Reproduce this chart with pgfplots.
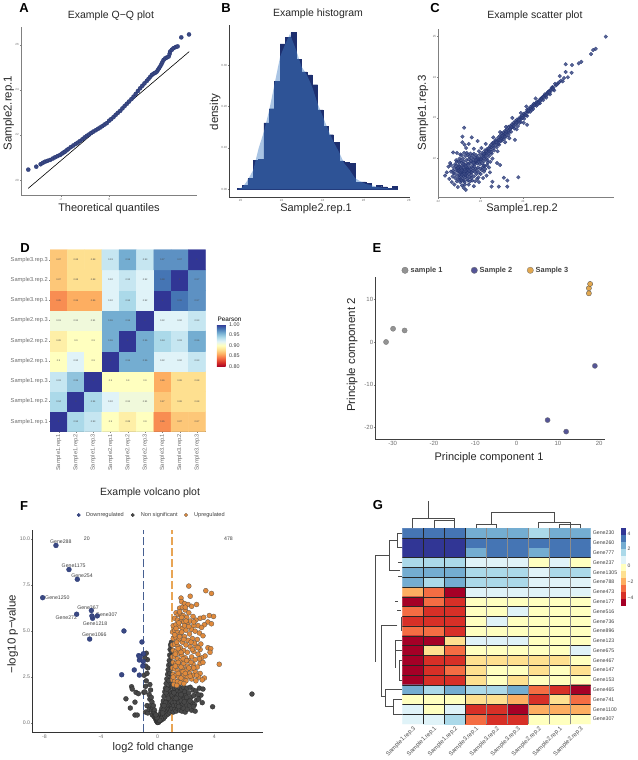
\documentclass[border=0pt]{standalone}
\usepackage{fontspec}
\setmainfont{Liberation Sans}
\usepackage{pgfplots}
\pgfplotsset{compat=1.18}
\definecolor{c0}{RGB}{165,0,38}
\definecolor{c1}{RGB}{215,48,39}
\definecolor{c2}{RGB}{244,109,67}
\definecolor{c3}{RGB}{253,174,97}
\definecolor{c4}{RGB}{254,224,144}
\definecolor{c5}{RGB}{255,255,191}
\definecolor{c6}{RGB}{224,243,248}
\definecolor{c7}{RGB}{171,217,233}
\definecolor{c8}{RGB}{116,173,209}
\definecolor{c9}{RGB}{69,117,180}
\definecolor{c10}{RGB}{49,54,149}
\definecolor{navy}{RGB}{29,47,111}
\definecolor{ptblue}{RGB}{58,72,130}
\definecolor{vorange}{RGB}{224,138,60}
\definecolor{vgray}{RGB}{72,72,72}
\definecolor{tickgray}{RGB}{110,110,110}
\definecolor{dashblue}{RGB}{70,95,145}
\definecolor{dashorange}{RGB}{232,165,85}
\definecolor{densblue}{RGB}{68,127,196}
\definecolor{sblue}{RGB}{85,85,150}
\definecolor{sorange}{RGB}{226,168,80}
\pgfplotsset{
 xl/.style 2 args={xlabel style={at={(axis description cs:#1,#2)},anchor=center,font=\fontsize{11}{11}\selectfont,text=black!85}},
 yl/.style 2 args={ylabel style={at={(axis description cs:#1,#2)},anchor=center,font=\fontsize{11.5}{11.5}\selectfont,text=black!85}},
 tl/.style 2 args={title style={at={(axis description cs:#1,#2)},anchor=center,yshift=0pt,font=\fontsize{10.5}{10.5}\selectfont,text=black!85}},
 panel/.style={scale only axis,axis x line*=bottom,axis y line*=left,
   /pgf/number format/assume math mode=true,
   tick align=outside,major tick length=1pt,tick style={draw=gray,line width=.3pt},
   xtick pos=lower,ytick pos=left,
   xticklabel style={font=\fontsize{3}{3}\selectfont,text=tickgray,inner sep=1pt},
   yticklabel style={font=\fontsize{3}{3}\selectfont,text=tickgray,inner sep=1pt}},
 colormap={rdylbu}{rgb255=(165,0,38) rgb255=(215,48,39) rgb255=(244,109,67) rgb255=(253,174,97) rgb255=(254,224,144) rgb255=(255,255,191) rgb255=(224,243,248) rgb255=(171,217,233) rgb255=(116,173,209) rgb255=(69,117,180) rgb255=(49,54,149)},
}
\begin{document}
\begin{tikzpicture}[x=1pt,y=1pt]
\path[use as bounding box] (0,0) rectangle (637pt,760pt);

% ---------- A
\begin{axis}[panel,at={(21pt,564pt)},anchor=south west,width=176pt,height=169pt,
 xmin=-3.64,xmax=3.63,ymin=19.29,ymax=26.79,xtick={-2,0},ytick={20,22,24,26},
 axis line style={draw=gray,line width=1pt},
 title={Example Q−Q plot},tl={.511}{1.031},
 xlabel={Theoretical quantiles},xl={.5}{-.077},
 ylabel={Sample2.rep.1},yl={-.07}{.491}]
\addplot[only marks,mark=*,mark size=2.1pt,mark options={fill=ptblue,draw=navy,line width=.2pt}] coordinates {
(-3.34,20.46)(-3.01,20.59)(-2.83,20.70)(-2.74,20.76)(-2.65,20.81)(-2.55,20.85)(-2.44,20.89)(-2.33,20.95)(-2.23,21.01)(-2.13,21.06)(-2.03,21.11)(-1.95,21.17)(-1.88,21.22)(-1.82,21.26)(-1.75,21.32)(-1.68,21.38)(-1.58,21.46)(-1.48,21.53)(-1.38,21.60)(-1.29,21.66)(-1.20,21.73)(-1.10,21.81)(-1.01,21.89)(-.92,21.96)(-.83,22.02)(-.74,22.09)(-.65,22.15)(-.55,22.21)(-.46,22.27)(-.37,22.33)(-.28,22.39)(-.19,22.46)(-.10,22.52)(0,22.63)(.08,22.70)(.18,22.79)(.27,22.89)(.36,22.98)(.46,23.07)(.55,23.18)(.64,23.28)(.73,23.38)(.82,23.48)(.92,23.59)(1.01,23.70)(1.10,23.82)(1.19,23.95)(1.28,24.07)(1.37,24.18)(1.46,24.29)(1.56,24.40)(1.63,24.49)(1.70,24.58)(1.77,24.67)(1.84,24.72)(1.91,24.76)(1.97,24.81)(2.02,24.89)(2.06,24.96)(2.11,25.04)(2.16,25.14)(2.20,25.23)(2.25,25.33)(2.32,25.40)(2.39,25.44)(2.46,25.48)(2.50,25.60)(2.52,25.70)(2.59,25.78)(2.66,25.85)(2.75,25.90)(2.83,25.93)(2.98,26.33)(3.30,26.46)};
\addplot[black,line width=.6pt] coordinates {(-3.34,19.63)(3.31,25.70)};
\end{axis}

% ---------- B
\begin{axis}[panel,at={(229.3pt,562.7pt)},anchor=south west,width=180.7pt,height=172.3pt,
 xmin=19.45,xmax=28.26,ymin=-.0194,ymax=.3976,xtick={20,22,24,26,28.2},xticklabels={20,22,24,26,28},
 ytick={0,.1,.2,.3},yticklabels={0.00,0.10,0.20,0.30},
 axis line style={draw=black!75,line width=.7pt},
 title={Example histogram},tl={.491}{1.029},
 xlabel={Sample2.rep.1},xl={.48}{-.068},
 ylabel={density},yl={-.079}{.495}]
\addplot[ybar interval,fill=navy,draw=navy,line width=.4pt] coordinates {
(19.84,.003)(20.10,.010)(20.36,.026)(20.62,.070)(20.88,.073)(21.14,.161)(21.40,.195)(21.66,.261)(21.93,.352)(22.19,.368)(22.45,.379)(22.71,.315)(22.97,.284)(23.23,.277)(23.49,.253)(23.75,.192)(24.01,.153)(24.27,.132)(24.53,.113)(24.79,.069)(25.05,.065)(25.31,.062)(25.58,.016)(25.84,.018)(26.10,.015)(26.36,.006)(26.62,.010)(26.88,.006)(27.14,.003)(27.40,.007)(27.66,.007)};
\addplot[fill=densblue,fill opacity=.46,draw=none] coordinates {
(19.84,0)(20.10,.005)(20.36,.023)(20.62,.047)(20.88,.099)(21.14,.140)(21.40,.192)(21.66,.256)(21.93,.321)(22.19,.353)(22.40,.375)(22.45,.370)(22.71,.337)(22.97,.297)(23.23,.277)(23.49,.248)(23.75,.208)(24.01,.176)(24.27,.144)(24.53,.115)(24.79,.091)(25.05,.063)(25.31,.047)(25.58,.027)(25.84,.019)(26.10,.013)(26.36,.010)(26.62,.006)(26.88,.004)(27.66,0)} -- cycle;
\end{axis}

% ---------- C
\begin{axis}[panel,at={(438.3pt,562pt)},anchor=south west,width=176pt,height=168.7pt,
 xmin=22,xmax=26.16,ymin=21.03,ymax=25.18,xtick={22,23,24},ytick={22,23,24,25},
 axis line style={draw=gray,line width=1pt},
 title={Example scatter plot},tl={.549}{1.043},
 xlabel={Sample1.rep.2},xl={.476}{-.065},
 ylabel={Sample1.rep.3},yl={-.087}{.504}]
\addplot[only marks,mark=*,mark size=1.9pt,mark options={fill=ptblue,draw=navy,line width=.15pt,fill opacity=.85}] coordinates {
(25.96,25.0)(25.72,24.70)(25.66,24.67)(25.61,24.57)(25.38,24.38)(25.32,24.34)(25.16,24.30)(25.01,24.32)(25.15,24.11)(25.01,24.13)(25.06,24.0)(24.97,23.98)(24.87,24.03)(24.83,23.85)(24.76,23.84)(24.70,23.76)(24.74,23.68)(24.66,23.70)(24.62,23.66)(24.58,23.62)(24.64,23.58)(24.54,23.56)(24.50,23.54)(24.55,23.50)(24.46,23.49)(24.42,23.47)(24.48,23.44)(24.38,23.42)(24.34,23.40)(24.40,23.36)(24.30,23.36)(24.26,23.35)(24.32,23.30)(24.22,23.30)(24.18,23.27)(24.24,23.22)(24.14,23.22)(24.10,23.20)(24.17,23.15)(24.06,23.12)(24.02,23.10)(24.10,23.05)(23.98,23.05)(23.94,23.02)(24.03,22.98)(23.90,22.98)(23.86,22.96)(23.95,22.90)(23.82,22.92)(23.78,22.88)(23.88,22.80)(23.74,22.84)(23.70,22.80)(23.80,22.74)(23.66,22.78)(23.62,22.72)(23.72,22.66)(23.58,22.68)(23.54,22.64)(23.66,22.58)(23.50,22.62)(23.46,22.56)(23.60,22.54)(23.42,22.52)(23.40,22.44)(23.55,22.48)(23.36,22.46)(23.32,22.36)(23.50,22.44)(23.28,22.38)(23.25,22.28)(23.44,22.34)(23.22,22.30)(23.18,22.20)(23.38,22.28)(23.16,22.24)(23.12,22.14)(23.32,22.20)(23.10,22.20)(23.06,22.08)(23.26,22.12)(23.04,22.14)(23.0,22.02)(23.2,22.06)(22.98,22.10)(22.94,21.96)(23.14,22.0)(22.92,22.04)(22.88,21.92)(23.08,21.94)(23.35,22.42)(23.42,22.36)(23.48,22.50)(23.52,22.52)(23.57,22.60)(23.64,22.64)(23.69,22.72)(23.76,22.78)(23.83,22.86)(23.89,22.92)(23.96,22.98)(24.04,23.06)(24.12,23.14)(24.2,23.24)(24.28,23.32)(24.36,23.38)(24.44,23.48)(24.52,23.58)(24.6,23.64)(24.68,23.74)(24.78,23.80)(24.9,23.92)(23.24,22.22)(23.3,22.3)(23.2,22.18)(23.14,22.12)(23.08,22.06)(23.02,22.0)(22.96,21.98)(22.9,21.92)(24.10,22.83)(23.81,22.46)(23.46,22.65)(23.30,22.52)(23.60,22.78)(23.75,23.0)(23.95,23.12)(24.08,23.28)(24.30,23.48)(24.02,22.88)(23.85,22.72)(23.68,22.50)(23.58,22.40)(23.40,22.18)(23.28,22.0)(23.15,21.84)(23.05,21.78)(23.02,22.26)(23.12,22.36)(22.93,22.43)(22.79,22.52)(22.61,22.76)(22.57,22.54)(22.57,22.40)(22.72,22.36)(22.35,22.15)(22.28,21.89)(22.16,21.58)(22.65,21.23)(23.89,21.54)(23.55,21.53)(23.63,21.46)(23.63,21.31)(23.43,21.31)(23.26,21.31)(23.28,21.43)(23.39,21.89)(23.46,21.84)(22.62,22.34)(22.66,22.26)(22.84,22.24)(22.52,22.10)(22.44,22.14)(22.42,21.96)(22.30,21.84)(22.24,21.80)(22.20,21.66)(22.30,21.68)(22.26,21.50)(22.34,21.56)(22.32,21.42)(22.38,21.36)(22.46,21.30)(22.56,21.34)(22.60,21.28)(22.72,21.36)(22.84,21.32)(22.96,21.42)(23.06,21.52)(23.14,21.58)(23.22,21.66)(23.08,21.68)(23.20,21.78)(23.0,21.62)(22.92,21.50)(22.80,21.46)(22.70,21.46)(22.62,21.42)(22.52,21.42)(22.44,21.44)(22.40,21.52)(22.36,21.64)(22.42,21.72)(22.36,21.78)(22.48,21.84)(22.40,21.86)(22.46,21.58)(22.50,21.52)(22.54,21.56)(22.58,21.50)(22.64,21.54)(22.68,21.58)(22.74,21.54)(22.78,21.60)(22.84,21.56)(22.90,21.62)(22.96,21.66)(22.94,21.78)(22.88,21.74)(22.82,21.70)(22.76,21.68)(22.70,21.66)(22.64,21.66)(22.58,21.62)(22.52,21.64)(22.46,21.68)(22.50,21.74)(22.56,21.72)(22.62,21.74)(22.68,21.76)(22.74,21.78)(22.80,21.82)(22.86,21.86)(22.92,21.88)(22.98,21.86)(23.04,21.88)(23.10,21.82)(22.50,21.80)(22.56,21.82)(22.62,21.84)(22.68,21.88)(22.74,21.88)(22.80,21.92)(22.84,21.98)(22.78,22.02)(22.72,21.98)(22.66,21.96)(22.60,21.92)(22.54,21.90)(22.58,22.0)(22.64,22.06)(22.70,22.10)(22.76,22.12)(22.84,22.12)(22.50,21.60)(22.56,21.66)(22.60,21.58)(22.66,21.62)(22.72,21.62)(22.44,21.76)(22.54,21.76)(22.60,21.78)(22.66,21.70)(22.58,21.70)(22.62,21.68)(22.48,21.70)(22.52,21.68)(22.56,21.60)(22.64,21.60)(22.70,21.72)(22.76,21.74)(22.82,21.76)(22.52,21.48)(22.60,21.46)(22.68,21.50)(22.78,21.52)(22.86,21.68)(22.40,21.62)(22.44,21.92)(22.50,22.0)(22.96,22.18)(22.90,22.08)(22.86,22.02)(22.92,21.98)(23.0,21.94)(23.08,22.0)(23.16,21.96)
(22.55,21.71)(22.61,21.63)(22.67,21.79)(22.73,21.70)(22.79,21.66)(22.85,21.81)(22.91,21.71)(22.59,21.86)(22.65,21.81)(22.71,21.86)(22.77,21.94)(22.83,21.90)(22.89,21.96)(22.95,21.92)(23.01,21.98)(22.53,21.95)(22.47,21.78)(22.41,21.82)(22.35,21.70)(22.47,21.49)(22.55,21.46)(22.63,21.36)(22.75,21.44)(22.87,21.44)(22.95,21.54)(23.03,21.72)(23.11,21.74)(23.17,21.90)(23.23,21.92)(22.99,21.75)(23.07,21.82)(22.73,22.05)(22.81,22.08)(22.67,22.14)(22.61,22.14)(22.55,22.08)(22.49,21.92)(23.13,22.06)(23.19,22.12)(23.25,22.16)(23.31,22.26)(23.37,22.34)(23.43,22.40)(23.49,22.48)(23.53,22.58)(23.59,22.62)(23.65,22.68)(23.71,22.74)(23.77,22.82)(23.84,22.89)(23.91,22.95)(23.97,23.01)(24.05,23.08)(24.11,23.17)(24.19,23.22)(24.25,23.29)(24.33,23.36)(24.37,23.37)(24.43,23.45)(24.47,23.52)(24.53,23.55)(24.57,23.60)(24.61,23.63)(24.67,23.68)(24.72,23.74)(23.07,22.12)(23.13,22.18)(23.19,22.24)(23.25,22.34)(23.31,22.40)(23.37,22.40)(23.43,22.46)(23.47,22.44)(23.51,22.56)(23.57,22.54)(23.61,22.66)(23.67,22.64)(23.73,22.78)(23.79,22.80)(23.85,22.88)(23.92,22.88)(23.99,23.0)(24.07,23.06)(24.13,23.18)(24.21,23.19)(24.27,23.31)(24.35,23.33)(24.41,23.42)(24.49,23.50)(24.56,23.56)(24.63,23.62)(24.71,23.70)(24.8,23.82)(24.86,23.88)(24.94,23.90)};
\end{axis}

% ---------- D
\begin{axis}[panel,at={(50pt,328.3pt)},anchor=south west,width=155.7pt,height=182pt,
 xmin=-.5,xmax=8.5,ymin=-.5,ymax=8.5,point meta min=.8,point meta max=1,
 axis line style={draw=black!75,line width=.7pt},
 xtick={0,...,8},ytick={0,...,8},
 xticklabels={Sample1.rep.1,Sample1.rep.2,Sample1.rep.3,Sample2.rep.1,Sample2.rep.2,Sample2.rep.3,Sample3.rep.1,Sample3.rep.2,Sample3.rep.3},
 yticklabels={Sample1.rep.1,Sample1.rep.2,Sample1.rep.3,Sample2.rep.1,Sample2.rep.2,Sample2.rep.3,Sample3.rep.1,Sample3.rep.2,Sample3.rep.3},
 xticklabel style={font=\fontsize{5.7}{5.7}\selectfont,rotate=90,anchor=east,text=tickgray},
 yticklabel style={font=\fontsize{5.7}{5.7}\selectfont,text=tickgray},
 colorbar,
 colorbar style={at={(parent axis.east)},anchor=west,xshift=2.6pt,yshift=-4.8pt,width=8.7pt,height=42.4pt,
   axis line style={draw=none},ytick={.8,.85,.9,.95,1},major tick length=0pt,
   yticklabel style={font=\fontsize{5.4}{5.4}\selectfont,text=black!75,/pgf/number format/.cd,assume math mode=true,fixed,fixed zerofill,precision=2},
   title={Pearson},title style={font=\fontsize{6.4}{6.4}\selectfont,yshift=-7pt,xshift=8.4pt}}]
\addplot[matrix plot*,point meta=explicit,mesh/cols=9,
 nodes near coords,
 nodes near coords style={anchor=center,font=\fontsize{2.4}{2.4}\selectfont,text=black!70,yshift=0pt,inner sep=0pt,/pgf/number format/fixed,/pgf/number format/precision=2}] coordinates {
(0,0)[1](1,0)[.94](2,0)[.93](3,0)[.90](4,0)[.89](5,0)[.90](6,0)[.85](7,0)[.87](8,0)[.87]
(0,1)[.94](1,1)[1](2,1)[.94](3,1)[.92](4,1)[.91](5,1)[.91](6,1)[.87](7,1)[.88](8,1)[.88]
(0,2)[.93](1,2)[.95](2,2)[1](3,2)[.90](4,2)[.90](5,2)[.90](6,2)[.86](7,2)[.88](8,2)[.88]
(0,3)[.90](1,3)[.92](2,3)[.90](3,3)[1](4,3)[.96](5,3)[.96](6,3)[.92](7,3)[.92](8,3)[.93]
(0,4)[.89](1,4)[.90](2,4)[.90](3,4)[.96](4,4)[1](5,4)[.96](6,4)[.94](7,4)[.93](8,4)[.96]
(0,5)[.91](1,5)[.91](2,5)[.91](3,5)[.96](4,5)[.96](5,5)[1](6,5)[.92](7,5)[.92](8,5)[.93]
(0,6)[.85](1,6)[.86](2,6)[.86](3,6)[.92](4,6)[.94](5,6)[.92](6,6)[1](7,6)[.98](8,6)[.97]
(0,7)[.87](1,7)[.88](2,7)[.88](3,7)[.92](4,7)[.93](5,7)[.92](6,7)[.98](7,7)[1](8,7)[.97]
(0,8)[.87](1,8)[.88](2,8)[.88](3,8)[.93](4,8)[.96](5,8)[.93](6,8)[.97](7,8)[.97](8,8)[1]};
\end{axis}

% ---------- E
\begin{axis}[panel,at={(375.3pt,320.7pt)},anchor=south west,width=229.7pt,height=162.6pt,
 xmin=-34.2,xmax=21.4,ymin=-22.8,ymax=15.3,xtick={-30,-20,...,20},ytick={-20,-10,0,10},
 axis line style={draw=black!75,line width=.7pt},
 xticklabel style={font=\fontsize{6}{6}\selectfont,text=tickgray},
 yticklabel style={font=\fontsize{6}{6}\selectfont,text=tickgray},
 xlabel={Principle component 1},xl={.495}{-.115},
 ylabel={Principle component 2},yl={-.101}{.518}]
\addplot[only marks,mark=*,mark size=2.6pt,mark options={fill=gray!85,draw=black!55,line width=.3pt}] coordinates {(-31.6,0)(-29.9,3.1)(-27.1,2.7)};
\addplot[only marks,mark=*,mark size=2.6pt,mark options={fill=sblue,draw=black!55,line width=.3pt}] coordinates {(18.95,-5.6)(7.5,-18.3)(12.0,-21.0)};
\addplot[only marks,mark=*,mark size=2.6pt,mark options={fill=sorange,draw=black!70,line width=.3pt}] coordinates {(17.5,11.4)(17.5,12.6)(17.8,13.6)};
\end{axis}

% ---------- F
\begin{axis}[panel,at={(32.3pt,27.7pt)},anchor=south west,width=231pt,height=202.3pt,
 xmin=-8.85,xmax=7.46,ymin=-.5,ymax=10.5,xtick={-8,-4,0,4},ytick={0,2.5,5,7.5,10},
 yticklabels={0.0,2.5,5.0,7.5,10.0},
 axis line style={draw=black!80,line width=.8pt},
 xticklabel style={font=\fontsize{5.2}{5.2}\selectfont,text=tickgray},
 yticklabel style={font=\fontsize{5.2}{5.2}\selectfont,text=tickgray},
 title={Example volcano plot},tl={.51}{1.153},
 xlabel={log2 fold change},xl={.523}{-.078},
 ylabel={−log10 p−value},yl={-.085}{.486},clip=false]
% non significant
\addplot[only marks,mark=*,mark size=2.5pt,mark options={fill=vgray,draw=black!85,line width=.2pt}] coordinates {
(6.66,1.58)(3.88,.89)(3.15,1.11)(3.06,1.52)(-1.84,1.98)(-1.79,1.85)(-2.24,1.32)(-1.6,1.14)(-1.93,.82)(-1.53,1.67)(-1.36,1.6)(-1.6,.44)(-1.44,.44)(-.98,1.67)(-.9,1.7)(-.85,2.0)(-.95,2.6)(-.8,2.3)(-.7,3.0)(-.75,2.7)(-.85,3.1)(-.8,3.8)(-.72,3.45)(-.9,3.55)(-.6,1.55)(-.55,2.1)(-.5,1.8)(-.55,1.3)(-.75,.95)(-.85,.6)(-.7,.55)(-.6,.75)(-.5,.95)(-.45,1.4)(-.4,1.15)(-.42,.7)(-.38,.45)(-.35,.85)(-.3,.95)(-.28,.6)(-.25,.35)(-.22,.7)(-.2,.5)(-.18,.3)(-.15,.42)(-.13,.2)(-.1,.3)(-.08,.12)(-.05,.18)(-.03,.06)(0,.03)(.03,.08)(.05,.15)(.08,.05)(.1,.25)(.12,.12)(.15,.35)(.18,.2)(.2,.5)(.22,.15)(.25,.65)(.28,.3)(.3,.8)(.32,.2)(.35,1.0)(.38,.45)(.4,1.2)(.42,.25)(.45,1.45)(.47,.6)(.5,1.7)(.52,.35)(.55,1.9)(.57,.8)(.6,2.15)(.62,.45)(.63,1.2)(.65,2.4)(.67,.6)(.7,2.65)(.7,1.5)(.72,1.0)(.74,2.9)(.75,.5)(.76,1.9)(.78,3.15)(.8,.75)(.8,2.3)(.82,3.4)(.83,1.3)(.85,3.7)(.85,.6)(.86,2.7)(.88,4.0)(.88,1.7)(.9,.95)(.9,3.2)(.91,4.25)(.92,2.1)(.93,.7)(.94,3.6)(.95,1.2)(.96,2.5)(.97,4.4)(.98,1.6)(.98,3.0)(.99,.9)(.99,3.9)(.99,2.0)(.6,1.65)(.4,.7)(.55,1.1)(.65,1.85)(.75,1.35)(.45,.95)(.35,.55)(.25,.25)(.15,.15)(-.05,.3)(-.12,.45)
(1.02,.8)(1.03,1.5)(1.05,1.95)(1.08,1.1)(1.1,.6)(1.12,1.7)(1.15,.95)(1.18,1.35)(1.2,1.9)(1.22,.75)(1.25,1.15)(1.28,1.6)(1.3,.65)(1.33,1.95)(1.35,.95)(1.38,1.3)(1.4,1.75)(1.43,.8)(1.45,1.55)(1.5,1.1)(1.52,1.95)(1.55,.7)(1.58,1.4)(1.6,1.7)(1.63,.95)(1.67,1.2)(1.7,1.85)(1.72,.65)(1.75,1.5)(1.8,1.05)(1.82,1.95)(1.85,.8)(1.9,1.3)(1.92,1.7)(1.95,.6)(2.0,1.5)(2.03,1.0)(2.08,1.9)(2.1,.75)(2.15,1.25)(2.2,1.65)(2.25,.95)(2.3,1.95)(2.35,1.4)(2.4,.7)(2.45,1.1)(2.5,1.8)(2.55,1.5)(2.6,1.0)(2.7,1.75)(2.75,1.25)(2.85,1.55)(2.95,1.9)(2.65,.65)(1.15,1.65)(1.3,1.35)(1.48,.9)(1.65,1.55)(1.88,1.15)(2.05,1.4)(2.28,1.2)(2.52,.9)(2.9,1.3)(3.2,1.85)};
% upregulated
\addplot[only marks,mark=*,mark size=2.5pt,mark options={fill=vorange,draw=black!70,line width=.25pt}] coordinates {
(2.2,7.45)(3.4,7.2)(3.8,7.05)(2.3,6.9)(1.65,6.8)(1.7,6.6)(1.9,6.5)(2.15,6.45)(2.4,6.35)(2.75,6.45)(1.55,6.25)(1.75,6.3)(1.95,6.15)(2.2,6.0)(2.5,5.8)(3.0,5.7)(3.25,5.75)(3.65,5.85)(3.95,5.8)(3.55,5.5)(3.3,5.35)(3.8,5.4)(2.7,5.6)(2.85,5.3)(3.1,5.2)(1.3,6.0)(1.45,5.9)(1.6,5.95)(1.8,5.85)(2.05,5.75)(2.3,5.55)(2.55,5.3)(1.2,5.7)(1.4,5.6)(1.65,5.55)(1.85,5.5)(2.1,5.35)(2.4,5.1)(2.65,5.0)(2.95,4.9)(3.2,4.75)(1.1,5.3)(1.3,5.35)(1.5,5.25)(1.75,5.15)(2.0,5.05)(2.25,4.85)(2.8,4.55)(3.05,4.3)(1.05,4.95)(1.2,5.05)(1.4,4.95)(1.6,4.85)(1.9,4.7)(2.15,4.5)(2.45,4.6)(2.7,4.2)(3.0,4.0)(3.55,4.1)(3.75,4.05)(3.7,3.85)(3.35,3.65)(1.1,4.6)(1.3,4.65)(1.5,4.55)(1.75,4.4)(2.0,4.25)(2.3,4.15)(2.55,3.9)(2.85,3.75)(3.1,3.55)(1.05,4.25)(1.2,4.3)(1.4,4.2)(1.6,4.1)(1.85,3.95)(2.1,3.85)(2.4,3.6)(2.65,3.45)(3.0,3.25)(4.35,3.2)(3.2,3.3)(1.1,3.95)(1.3,3.9)(1.5,3.8)(1.7,3.7)(1.95,3.55)(2.2,3.4)(2.5,3.2)(2.8,3.05)(1.05,3.6)(1.2,3.6)(1.4,3.5)(1.6,3.4)(1.85,3.25)(2.1,3.1)(2.35,2.95)(2.65,2.8)(3.0,2.7)(3.3,2.45)(1.1,3.3)(1.3,3.25)(1.5,3.15)(1.75,3.0)(2.0,2.85)(2.25,2.7)(2.5,2.6)(2.9,2.5)(3.15,2.35)(1.05,3.0)(1.2,2.95)(1.4,2.85)(1.6,2.75)(1.85,2.6)(2.1,2.5)(2.4,2.4)(2.7,2.3)(1.1,2.65)(1.3,2.6)(1.5,2.5)(1.75,2.4)(2.0,2.3)(1.05,2.35)(1.2,2.3)(1.4,2.25)(1.6,2.2)(1.85,2.15)(1.15,2.1)(1.35,2.05)(1.55,6.05)(1.7,5.75)(1.5,5.45)(1.9,5.3)(1.3,5.15)(1.7,4.95)(1.55,4.7)(1.2,4.8)(1.85,4.55)(1.95,6.3)(1.35,4.4)(1.45,4.05)(1.65,3.85)(1.25,3.75)(1.8,3.5)(1.45,3.3)(1.65,3.05)(1.25,3.1)(1.8,2.8)(1.45,2.7)(1.65,2.45)(1.1,2.5)(1.95,2.7)(2.05,3.4)(2.2,3.0)(2.35,3.3)(2.3,2.55)(2.55,3.0)(2.75,2.6)(2.45,4.0)(2.6,4.35)(2.85,4.1)(2.35,4.4)(2.95,3.5)(2.55,5.5)(2.2,5.25)(2.0,5.55)};
% downregulated
\addplot[only marks,mark=*,mark size=2.5pt,mark options={fill=ptblue,draw=navy,line width=.2pt}] coordinates {
(-7.18,9.66)(-6.26,8.35)(-5.67,7.82)(-8.12,6.82)(-5.72,5.92)(-4.68,6.12)(-4.26,5.83)(-4.59,5.70)(-4.64,5.83)(-4.80,4.57)(-2.38,5.01)(-1.11,4.41)(-1.01,3.77)(-1.34,3.67)(-1.29,3.43)(-1.25,3.61)(-1.02,3.35)(-1.65,2.89)(-2.54,2.63)(-1.29,2.61)(-1.05,3.1)};
\addplot[dash pattern=on 8pt off 3pt,line width=1.4pt,color=dashblue] coordinates {(-1,-.5)(-1,10.5)};
\addplot[dash pattern=on 8pt off 3pt,line width=1.4pt,color=dashorange] coordinates {(1,-.5)(1,10.5)};
\begin{scope}[font=\fontsize{5.2}{5.2}\selectfont,text=black!75]
\node at (-5,10) {20};
\node at (5,10) {478};
\node at (-6.84,9.87) {Gene288};
\node at (-5.93,8.57) {Gene1175};
\node at (-5.34,8.03) {Gene254};
\node at (-7.08,6.81) {Gene1250};
\node at (-4.92,6.3) {Gene367};
\node at (-3.6,5.88) {Gene307};
\node at (-6.45,5.72) {Gene272};
\node at (-4.42,5.39) {Gene1218};
\node at (-4.47,4.79) {Gene1066};
\end{scope}
\end{axis}

% ---------- G
\begin{axis}[panel,at={(402.3pt,36pt)},anchor=south west,width=188.4pt,height=195.7pt,
 xmin=-.5,xmax=8.5,ymin=-.5,ymax=19.5,y dir=reverse,point meta min=-5,point meta max=5,
 axis line style={draw=none},major tick length=0pt,unbounded coords=jump,
 axis x line*=bottom,axis y line*=right,xtick pos=lower,ytick pos=right,
 xtick={0,...,8},ytick={0,...,19},
 xticklabels={Sample1.rep.3,Sample1.rep.1,Sample1.rep.2,Sample3.rep.1,Sample3.rep.2,Sample3.rep.3,Sample2.rep.2,Sample2.rep.1,Sample2.rep.3},
 yticklabels={Gene230,Gene260,Gene777,Gene237,Gene1305,Gene788,Gene473,Gene177,Gene516,Gene736,Gene896,Gene123,Gene675,Gene467,Gene147,Gene153,Gene465,Gene741,Gene1100,Gene307},
 xticklabel style={font=\fontsize{6}{6}\selectfont,rotate=45,anchor=north east,text=black!70,inner sep=1pt},
 yticklabel style={font=\fontsize{5.2}{5.2}\selectfont,text=black!75,inner sep=2pt}]
\addplot[matrix plot*,point meta=explicit,mesh/cols=9] coordinates {
(0,0)[4](1,0)[4](2,0)[4](3,0)[3](4,0)[3](5,0)[3](6,0)[2](7,0)[3](8,0)[3]
(0,1)[5](1,1)[5](2,1)[5](3,1)[4](4,1)[4](5,1)[4](6,1)[4](7,1)[4](8,1)[4]
(0,2)[5](1,2)[5](2,2)[5](3,2)[3](4,2)[4](5,2)[4](6,2)[3](7,2)[4](8,2)[4]
(0,3)[2](1,3)[2](2,3)[2](3,3)[1](4,3)[1](5,3)[1](6,3)[0](7,3)[1](8,3)[0]
(0,4)[3](1,4)[3](2,4)[3](3,4)[2](4,4)[2](5,4)[2](6,4)[1](7,4)[2](8,4)[2]
(0,5)[3](1,5)[2](2,5)[3](3,5)[2](4,5)[2](5,5)[2](6,5)[1](7,5)[1](8,5)[1]
(0,6)[-2](1,6)[-3](2,6)[-5](3,6)[1](4,6)[1](5,6)[1](6,6)[1](7,6)[1](8,6)[1]
(0,7)[-5](1,7)[-3](2,7)[-4](3,7)[0](4,7)[0](5,7)[0](6,7)[0](7,7)[0](8,7)[0]
(0,8)[-3](1,8)[-4](2,8)[-4](3,8)[0](4,8)[0](5,8)[1](6,8)[0](7,8)[0](8,8)[0]
(0,9)[-4](1,9)[-4](2,9)[-4](3,9)[0](4,9)[1](5,9)[0](6,9)[0](7,9)[0](8,9)[0]
(0,10)[-3](1,10)[-3](2,10)[-4](3,10)[0](4,10)[0](5,10)[0](6,10)[0](7,10)[0](8,10)[0]
(0,11)[-5](1,11)[-5](2,11)[-1](3,11)[1](4,11)[1](5,11)[1](6,11)[0](7,11)[0](8,11)[0]
(0,12)[-5](1,12)[-1](2,12)[-3](3,12)[0](4,12)[0](5,12)[0](6,12)[0](7,12)[0](8,12)[1]
(0,13)[-5](1,13)[-4](2,13)[-4](3,13)[-1](4,13)[-1](5,13)[-1](6,13)[-1](7,13)[-1](8,13)[0]
(0,14)[-5](1,14)[-4](2,14)[-3](3,14)[-1](4,14)[0](5,14)[0](6,14)[-1](7,14)[0](8,14)[-1]
(0,15)[-5](1,15)[-4](2,15)[-4](3,15)[-1](4,15)[0](5,15)[-1](6,15)[0](7,15)[0](8,15)[0]
(0,16)[3](1,16)[2](2,16)[3](3,16)[2](4,16)[2](5,16)[3](6,16)[-3](7,16)[-4](8,16)[-5]
(0,17)[0](1,17)[0](2,17)[0](3,17)[-1](4,17)[-1](5,17)[-2](6,17)[-4](7,17)[-1](8,17)[-3]
(0,18)[1](1,18)[0](2,18)[1](3,18)[-4](4,18)[-4](5,18)[-5](6,18)[-2](7,18)[-2](8,18)[-2]
(0,19)[1](1,19)[1](2,19)[2](3,19)[-3](4,19)[-4](5,19)[-4](6,19)[0](7,19)[0](8,19)[0]};
\addplot[black!85,line width=.45pt] coordinates {(-.5,.5)(8.5,.5)(nan,nan)(-.5,2.5)(8.5,2.5)(nan,nan)(-.5,3.5)(8.5,3.5)(nan,nan)(-.5,4.5)(8.5,4.5)(nan,nan)(-.5,5.5)(8.5,5.5)(nan,nan)(-.5,6.5)(8.5,6.5)(nan,nan)(-.5,7.5)(8.5,7.5)(nan,nan)(-.5,8.5)(8.5,8.5)(nan,nan)(-.5,9.5)(8.5,9.5)(nan,nan)(-.5,10.5)(8.5,10.5)(nan,nan)(-.5,11.5)(8.5,11.5)(nan,nan)(-.5,12.5)(8.5,12.5)(nan,nan)(-.5,13.5)(8.5,13.5)(nan,nan)(-.5,14.5)(8.5,14.5)(nan,nan)(-.5,15.5)(8.5,15.5)(nan,nan)(-.5,16.5)(8.5,16.5)(nan,nan)(-.5,17.5)(8.5,17.5)(nan,nan)(-.5,18.5)(8.5,18.5)(nan,nan)(.5,-.5)(.5,19.5)(nan,nan)(1.5,-.5)(1.5,19.5)(nan,nan)(2.5,-.5)(2.5,19.5)};
\addplot[black!45,line width=.45pt] coordinates {(3.5,-.5)(3.5,19.5)(nan,nan)(4.5,-.5)(4.5,19.5)(nan,nan)(5.5,-.5)(5.5,19.5)(nan,nan)(6.5,-.5)(6.5,19.5)(nan,nan)(7.5,-.5)(7.5,19.5)};
\end{axis}

% ---------- dendrograms (units: 1/3 px from 340,500)
\begin{axis}[at={(340pt,0pt)},anchor=south west,scale only axis,width=297pt,height=260pt,
 xmin=0,xmax=891,ymin=0,ymax=780,y dir=reverse,hide axis,clip=false,unbounded coords=jump]
\addplot[black!70,line width=.6pt] coordinates {
(265,3)(265,55)(nan,nan)(218,85)(218,55)(343,55)(343,85)(nan,nan)(283,62)(343,62)(nan,nan)(283,62)(283,85)
(nan,nan)(408,85)(408,72)(470,72)(470,85)(nan,nan)(455,72)(455,37)(643,37)(643,68)(nan,nan)(596,85)(596,68)(690,68)(690,85)(nan,nan)(658,85)(658,72)(722,72)(722,85)
(nan,nan)(187,100)(172,100)(172,143)(187,143)(nan,nan)(107,485)(107,165)(147,165)(nan,nan)(172,120)(147,120)(147,210)(180,210)(nan,nan)(175,186)(187,186)(nan,nan)(175,230)(187,230)(nan,nan)(165,305)(175,305)(nan,nan)(172,332)(182,332)
(nan,nan)(125,375)(125,590)(135,590)(nan,nan)(135,568)(135,620)(nan,nan)(135,568)(187,568)(nan,nan)(135,620)(160,620)(nan,nan)(160,598)(160,643)(nan,nan)(160,598)(187,598)(nan,nan)(160,643)(187,643)
(nan,nan)(185,350)(185,392)(nan,nan)(165,422)(187,422)(nan,nan)(165,422)(165,505)(nan,nan)(165,452)(187,452)(nan,nan)(178,482)(187,482)(nan,nan)(178,482)(178,540)(nan,nan)(178,540)(187,540)(nan,nan)(172,375)(125,375)};
\end{axis}

% ---------- overlay (units: reference pixels, y from the top)
\begin{axis}[at={(0pt,0pt)},anchor=south west,scale only axis,width=637pt,height=760pt,
 xmin=0,xmax=637,ymin=0,ymax=760,y dir=reverse,hide axis,clip=false]
\begin{scope}[font=\bfseries\fontsize{13}{13}\selectfont]
\node at (24,8.5) {A};
\node at (226,8) {B};
\node at (435,8) {C};
\node at (25,248) {D};
\node at (377,248) {E};
\node at (24,506) {F};
\node at (378,505) {G};
\end{scope}
% legend E
\addplot[only marks,mark=*,mark size=3.2pt,mark options={fill=gray!85,draw=black!55,line width=.3pt}] coordinates {(405,270.3)};
\addplot[only marks,mark=*,mark size=3.2pt,mark options={fill=sblue,draw=black!55,line width=.3pt}] coordinates {(474.3,270.3)};
\addplot[only marks,mark=*,mark size=3.2pt,mark options={fill=sorange,draw=black!55,line width=.3pt}] coordinates {(530.3,270.3)};
\begin{scope}[font=\bfseries\fontsize{7.4}{7.4}\selectfont,text=black!75]
\node[anchor=west,inner sep=0pt] at (410.5,270.3) {sample 1};
\node[anchor=west,inner sep=0pt] at (479.5,270.3) {Sample 2};
\node[anchor=west,inner sep=0pt] at (535.5,270.3) {Sample 3};
\end{scope}
% legend F
\addplot[only marks,mark=*,mark size=1.8pt,mark options={fill=ptblue,draw=navy,line width=.2pt}] coordinates {(78.7,515)};
\addplot[only marks,mark=*,mark size=1.8pt,mark options={fill=vgray,draw=black!85,line width=.2pt}] coordinates {(132.7,515)};
\addplot[only marks,mark=*,mark size=1.8pt,mark options={fill=vorange,draw=black!70,line width=.2pt}] coordinates {(186,515)};
\begin{scope}[font=\fontsize{5.6}{5.6}\selectfont,text=black!75]
\node[anchor=west,inner sep=0pt] at (86,515) {Downregulated};
\node[anchor=west,inner sep=0pt] at (140.7,515) {Non significant};
\node[anchor=west,inner sep=0pt] at (194,515) {Upregulated};
\end{scope}
% colourbar G
\fill[c10] (620.7,528) rectangle (626,535.1);
\fill[c9] (620.7,535.1) rectangle (626,542.2);
\fill[c8] (620.7,542.2) rectangle (626,549.3);
\fill[c7] (620.7,549.3) rectangle (626,556.4);
\fill[c6] (620.7,556.4) rectangle (626,563.5);
\fill[c5] (620.7,563.5) rectangle (626,570.6);
\fill[c4] (620.7,570.6) rectangle (626,577.7);
\fill[c3] (620.7,577.7) rectangle (626,584.8);
\fill[c2] (620.7,584.8) rectangle (626,591.9);
\fill[c1] (620.7,591.9) rectangle (626,599);
\fill[c0] (620.7,599) rectangle (626,606);
\begin{scope}[font=\fontsize{5}{5}\selectfont,text=black!75]
\node[anchor=west,inner sep=0pt] at (627.5,533.3) {4};
\node[anchor=west,inner sep=0pt] at (627.5,549) {2};
\node[anchor=west,inner sep=0pt] at (627.5,566) {0};
\node[anchor=west,inner sep=0pt] at (627.5,581.7) {−2};
\node[anchor=west,inner sep=0pt] at (627.5,597.5) {−4};
\end{scope}
\end{axis}
\end{tikzpicture}
\end{document}
